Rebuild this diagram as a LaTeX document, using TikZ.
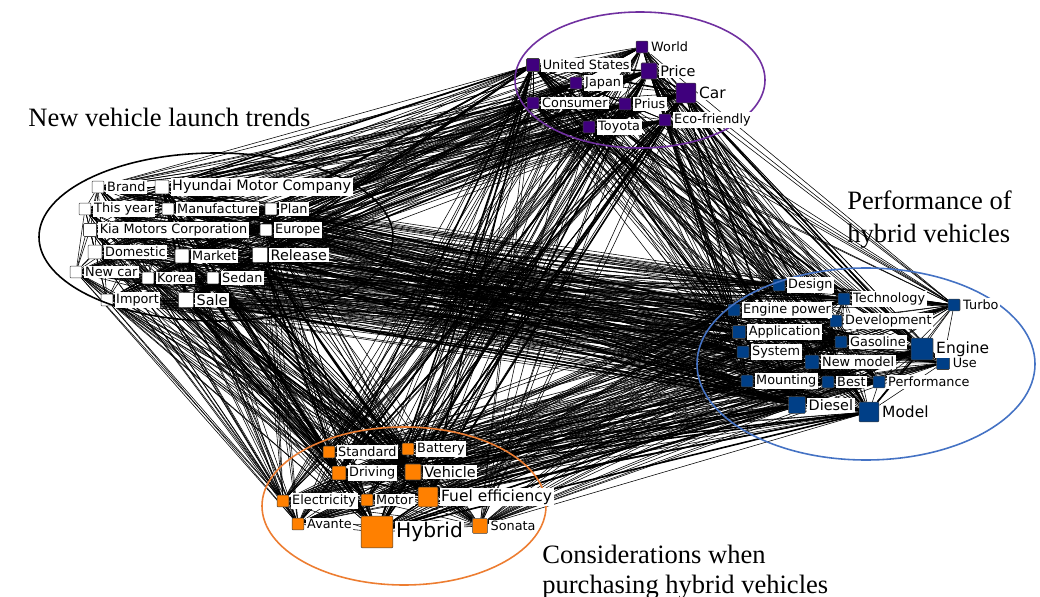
\documentclass[tikz,border=0pt]{standalone}
\usepackage{fontspec}
\setmainfont{Liberation Serif}
\newfontfamily\lblfont{DejaVu Sans}
\usepackage{xcolor}
\usetikzlibrary{backgrounds}
\definecolor{purpnode}{RGB}{63,0,125}
\definecolor{navynode}{RGB}{0,63,135}
\definecolor{orngnode}{RGB}{255,128,0}
\definecolor{purpring}{RGB}{112,48,160}
\definecolor{bluering}{RGB}{68,114,196}
\definecolor{orngring}{RGB}{237,125,49}
\def\allnodes{world,us,price,japan,car,consumer,prius,toyota,eco,brand,hyundai,thisyear,manuf,plan,kia,europe,domestic,market,release,newcar,korea,sedan,import,sale,design,tech,turbo,enginepower,develop,applic,gasoline,engine,system,newmodel,use,mounting,best,perf,diesel,model,standard,battery,driving,vehicle,electricity,motor,fuel,avante,hybrid,sonata}
\def\hubnodes{car,price,us,hyundai,release,sale,market,engine,model,diesel,hybrid,fuel,vehicle,driving}

\begin{document}
\begin{tikzpicture}[x=0.02cm, y=-0.02cm,
  sq/.style={draw=black!75, line width=0.3pt, rounded corners=0.6pt, inner sep=0pt, minimum size=#1},
  pnode/.style={sq=#1, fill=purpnode}, pnode/.default=6.8pt,
  wnode/.style={sq=#1, fill=white}, wnode/.default=6.8pt,
  bnode/.style={sq=#1, fill=navynode}, bnode/.default=6.8pt,
  onode/.style={sq=#1, fill=orngnode}, onode/.default=6.8pt,
  lbl/.style={fill=white, inner sep=0.9pt, xshift=0.6pt, font=\lblfont\fontsize{7.3}{8.5}\selectfont},
  lblm/.style={lbl, font=\lblfont\fontsize{8.2}{9.5}\selectfont},
  lbll/.style={lbl, font=\lblfont\fontsize{8.8}{10}\selectfont},
  lblh/.style={lbl, font=\lblfont\fontsize{11.5}{13}\selectfont},
  edge/.style={black, line width=0.32pt},
  hubedge/.style={black, line width=0.9pt},
  ring/.style={line width=0.9pt},
  title/.style={font=\fontsize{15.1}{18.8}\selectfont, inner sep=0pt}]
  \useasboundingbox (0,0) rectangle (1040,597);

  % cluster: purple
  \node[pnode] (world) at (642,47) {};
  \node[pnode=7.4pt] (us) at (533,65) {};
  \node[pnode=9.1pt] (price) at (649,71) {};
  \node[pnode] (japan) at (576,83) {};
  \node[pnode=11.3pt] (car) at (686,93) {};
  \node[pnode] (consumer) at (533,103) {};
  \node[pnode] (prius) at (625,104) {};
  \node[pnode] (toyota) at (589,127) {};
  \node[pnode] (eco) at (665,120) {};

  % cluster: white
  \node[wnode] (brand) at (98,187) {};
  \node[wnode=7.9pt] (hyundai) at (162,187) {};
  \node[wnode] (thisyear) at (85,209) {};
  \node[wnode] (manuf) at (168,209) {};
  \node[wnode] (plan) at (271,209) {};
  \node[wnode=7.4pt] (kia) at (90,230) {};
  \node[wnode] (europe) at (266,230) {};
  \node[wnode=7.9pt] (domestic) at (95,252) {};
  \node[wnode=7.9pt] (market) at (182,256) {};
  \node[wnode=8.5pt] (release) at (260,255) {};
  \node[wnode] (newcar) at (76,272) {};
  \node[wnode] (korea) at (148,278) {};
  \node[wnode] (sedan) at (213,278) {};
  \node[wnode] (import) at (107,300) {};
  \node[wnode=8.5pt] (sale) at (186,300) {};

  % cluster: blue
  \node[bnode] (design) at (779,285) {};
  \node[bnode] (tech) at (844,299) {};
  \node[bnode] (turbo) at (954,305) {};
  \node[bnode] (enginepower) at (734,310) {};
  \node[bnode] (develop) at (836,321) {};
  \node[bnode=7.4pt] (applic) at (739,332) {};
  \node[bnode] (gasoline) at (841,342) {};
  \node[bnode=12.5pt] (engine) at (922,349) {};
  \node[bnode] (system) at (743,352) {};
  \node[bnode=7.9pt] (newmodel) at (812,362) {};
  \node[bnode=7.4pt] (use) at (943,363) {};
  \node[bnode] (mounting) at (747,381) {};
  \node[bnode] (best) at (828,382) {};
  \node[bnode] (perf) at (879,382) {};
  \node[bnode=9.6pt] (diesel) at (797,405) {};
  \node[bnode=11.3pt] (model) at (869,412) {};

  % cluster: orange
  \node[onode] (standard) at (329,452) {};
  \node[onode] (battery) at (408,449) {};
  \node[onode=7.9pt] (driving) at (339,473) {};
  \node[onode=9.1pt] (vehicle) at (413,472) {};
  \node[onode] (electricity) at (283,501) {};
  \node[onode] (motor) at (367,500) {};
  \node[onode=11.3pt] (fuel) at (428,497) {};
  \node[onode] (avante) at (298,524) {};
  \node[onode=18.1pt] (hybrid) at (377,532) {};
  \node[onode=8.5pt] (sonata) at (480,526) {};

  % co-occurrence links
  \begin{pgfonlayer}{background}
    \fill[white] (0,0) rectangle (1040,597);
    \foreach \a [count=\i] in \allnodes {
      \foreach \b [count=\j] in \allnodes {
        \ifnum\j>\i \draw[edge] (\a) -- (\b); \fi
      }
    }
    \foreach \a [count=\i] in \hubnodes {
      \foreach \b [count=\j] in \hubnodes {
        \ifnum\j>\i \draw[hubedge] (\a) -- (\b); \fi
      }
    }
  \end{pgfonlayer}

  % rings
  \draw[ring, purpring] (640,80) ellipse [x radius=125, y radius=68];
  \draw[ring, black] (216,237) ellipse [x radius=177, y radius=84];
  \draw[ring, bluering] (866,364) ellipse [x radius=169, y radius=96];
  \draw[ring, orngring] (404,506) ellipse [x radius=142, y radius=79];

  % word labels
  \node[lbl, anchor=west] (lworld) at (world.east) {World};
  \node[lbl, anchor=west] (lus) at (us.east) {United States};
  \node[lblm, anchor=west] (lprice) at (price.east) {Price};
  \node[lbl, anchor=west] (ljapan) at (japan.east) {Japan};
  \node[lbll, anchor=west] (lcar) at (car.east) {Car};
  \node[lbl, anchor=west] (lconsumer) at (consumer.east) {Consumer};
  \node[lbl, anchor=west] (lprius) at (prius.east) {Prius};
  \node[lbl, anchor=west] (ltoyota) at (toyota.east) {Toyota};
  \node[lbl, anchor=west] (leco) at (eco.east) {Eco-friendly};

  \node[lbl, anchor=west] (lbrand) at (brand.east) {Brand};
  \node[lblm, anchor=west] (lhyundai) at (hyundai.east) {Hyundai Motor Company};
  \node[lbl, anchor=west] (lthisyear) at (thisyear.east) {This year};
  \node[lbl, anchor=west] (lmanuf) at (manuf.east) {Manufacture};
  \node[lbl, anchor=west] (lplan) at (plan.east) {Plan};
  \node[lbl, anchor=west] (lkia) at (kia.east) {Kia Motors Corporation};
  \node[lbl, anchor=west] (leurope) at (europe.east) {Europe};
  \node[lbl, anchor=west] (ldomestic) at (domestic.east) {Domestic};
  \node[lbl, anchor=west] (lmarket) at (market.east) {Market};
  \node[lblm, anchor=west] (lrelease) at (release.east) {Release};
  \node[lbl, anchor=west] (lnewcar) at (newcar.east) {New car};
  \node[lbl, anchor=west] (lkorea) at (korea.east) {Korea};
  \node[lbl, anchor=west] (lsedan) at (sedan.east) {Sedan};
  \node[lbl, anchor=west] (limport) at (import.east) {Import};
  \node[lblm, anchor=west] (lsale) at (sale.east) {Sale};

  \node[lbl, anchor=west] (ldesign) at (design.east) {Design};
  \node[lbl, anchor=west] (ltech) at (tech.east) {Technology};
  \node[lbl, anchor=west] (lturbo) at (turbo.east) {Turbo};
  \node[lbl, anchor=west] (lenginepower) at (enginepower.east) {Engine power};
  \node[lbl, anchor=west] (ldevelop) at (develop.east) {Development};
  \node[lbl, anchor=west] (lapplic) at (applic.east) {Application};
  \node[lbl, anchor=west] (lgasoline) at (gasoline.east) {Gasoline};
  \node[lbll, anchor=west] (lengine) at (engine.east) {Engine};
  \node[lbl, anchor=west] (lsystem) at (system.east) {System};
  \node[lbl, anchor=west] (lnewmodel) at (newmodel.east) {New model};
  \node[lbl, anchor=west] (luse) at (use.east) {Use};
  \node[lbl, anchor=west] (lmounting) at (mounting.east) {Mounting};
  \node[lbl, anchor=west] (lbest) at (best.east) {Best};
  \node[lbl, anchor=west] (lperf) at (perf.east) {Performance};
  \node[lblm, anchor=west] (ldiesel) at (diesel.east) {Diesel};
  \node[lbll, anchor=west] (lmodel) at (model.east) {Model};

  \node[lbl, anchor=west] (lstandard) at (standard.east) {Standard};
  \node[lbl, anchor=west] (lbattery) at (battery.east) {Battery};
  \node[lbl, anchor=west] (ldriving) at (driving.east) {Driving};
  \node[lblm, anchor=west] (lvehicle) at (vehicle.east) {Vehicle};
  \node[lbl, anchor=west] (lelectricity) at (electricity.east) {Electricity};
  \node[lbl, anchor=west] (lmotor) at (motor.east) {Motor};
  \node[lbll, anchor=west] (lfuel) at (fuel.east) {Fuel efficiency};
  \node[lbl, anchor=west] (lavante) at (avante.east) {Avante};
  \node[lblh, anchor=west] (lhybrid) at (hybrid.east) {Hybrid};
  \node[lbl, anchor=west] (lsonata) at (sonata.east) {Sonata};

  % cluster titles
  \node[title, anchor=base west] (tlaunch) at (28,127) {New vehicle launch trends};
  \node[title, anchor=north west, align=left] (tperf) at (847,190) {Performance of\\hybrid vehicles};
  \node[title, anchor=north west, align=left, font=\fontsize{15.1}{17}\selectfont] (tbuy) at (542,545) {Considerations when\\purchasing hybrid vehicles};
\end{tikzpicture}
\end{document}
